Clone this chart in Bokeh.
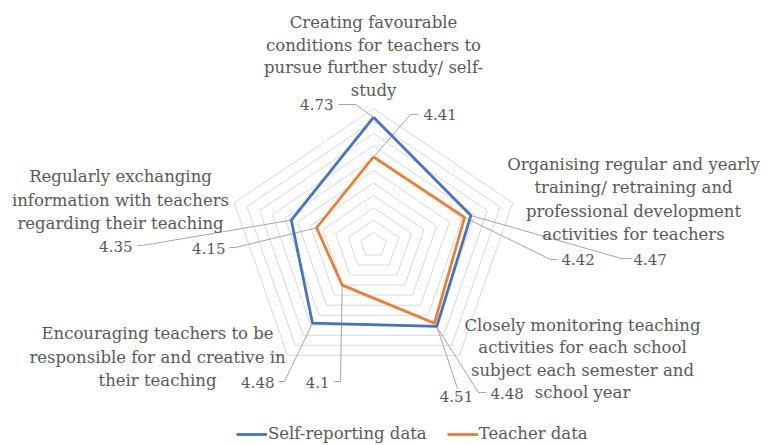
import numpy as np
from bokeh.plotting import figure
from bokeh.models import Range1d, Label, Legend, LegendItem
from bokeh.embed import file_html
from bokeh.resources import INLINE

# ---------------- data ----------------
categories = [
    ["Creating favourable", "conditions for teachers to", "pursue further study/ self-", "study"],
    ["Organising regular and yearly", "training/ retraining and", "professional development", "activities for teachers"],
    ["Closely monitoring teaching", "activities for each school", "subject each semester and", "school year"],
    ["Encouraging teachers to be", "responsible for and creative in", "their teaching"],
    ["Regularly exchanging", "information with teachers", "regarding their teaching"],
]
series_names = ["Self-reporting data", "Teacher data"]
self_reporting = [4.73, 4.47, 4.51, 4.48, 4.35]
teacher_data = [4.41, 4.42, 4.48, 4.10, 4.15]
self_labels = ["4.73", "4.47", "4.51", "4.48", "4.35"]
teacher_labels = ["4.41", "4.42", "4.48", "4.1", "4.15"]
scale_min = 3.7
ring_values = [3.8, 3.9, 4.0, 4.1, 4.2, 4.3, 4.4, 4.5, 4.6, 4.7, 4.8]

# ---------------- layout ----------------
W, H = 774, 445
CX, CY = 373.0, 244.5       # centre in canvas px
KX, KY = 133.0, 124.0       # px per unit (horizontal / vertical)
FONT = "DejaVu Serif"
FS = "16.5px"
FS_VAL = "15px"
TXT = "#595959"
BLUE, ORANGE = "#4472C4", "#ED7D31"
GRID = "#d9d9d9"
LEAD = "#a6a6a6"

def px(page_x):
    return (page_x - CX) / KX

def py(page_y):
    return (CY - page_y) / KY

n = len(categories)
angles = np.deg2rad(np.arange(n) * 360.0 / n)

def polar(values):
    r = np.asarray(values, dtype=float) - scale_min
    return r * np.sin(angles), r * np.cos(angles)

p = figure(width=W, height=H, output_backend="svg", toolbar_location=None,
           x_range=Range1d(-CX / KX, (W - CX) / KX),
           y_range=Range1d(-(H - CY) / KY, CY / KY),
           x_axis_location=None, y_axis_location=None, min_border=0)
p.grid.visible = False
p.outline_line_color = None
p.background_fill_color = "white"
p.border_fill_color = "white"

# rings
for rv in ring_values:
    xs, ys = polar([rv] * n)
    p.line(list(xs) + [xs[0]], list(ys) + [ys[0]], line_color=GRID, line_width=1)

# leader lines + value labels (layout in page px)
self_lbl_layout = [
    dict(tx=333, ty=104, align="right", path=[(355, 104), (338, 104)]),
    dict(tx=633, ty=259, align="left", path=[(621, 258), (631, 258)]),
    dict(tx=456, ty=396, align="center", path=[(457, 388)]),
    dict(tx=274, ty=382, align="right", path=[(284, 381), (278, 381)]),
    dict(tx=132, ty=246, align="right", path=[(142, 245), (137, 245)]),
]
teacher_lbl_layout = [
    dict(tx=423, ty=114, align="left", path=[(410, 114), (418, 114)]),
    dict(tx=561, ty=259, align="left", path=[(550, 259), (557, 259)]),
    dict(tx=490, ty=393, align="left", path=[(478, 392), (486, 392)]),
    dict(tx=329, ty=382, align="right", path=[(340, 381), (333, 381)]),
    dict(tx=225, ty=248, align="right", path=[(235, 247), (229, 247)]),
]

for vals, labels, layout in [(self_reporting, self_labels, self_lbl_layout),
                             (teacher_data, teacher_labels, teacher_lbl_layout)]:
    xs, ys = polar(vals)
    for i in range(n):
        lay = layout[i]
        lx = [xs[i]] + [px(a) for a, b in lay["path"]]
        ly = [ys[i]] + [py(b) for a, b in lay["path"]]
        p.line(lx, ly, line_color=LEAD, line_width=1)
        p.add_layout(Label(x=px(lay["tx"]), y=py(lay["ty"]), text=labels[i],
                           text_align=lay["align"], text_baseline="middle",
                           text_font=FONT, text_font_size=FS_VAL, text_color=TXT))

# series
renderers = []
for vals, col in [(self_reporting, BLUE), (teacher_data, ORANGE)]:
    xs, ys = polar(vals)
    r = p.line(list(xs) + [xs[0]], list(ys) + [ys[0]], line_color=col, line_width=2.75)
    renderers.append(r)

# category labels (layout: centre x, first line y, line step, page px)
cat_layout = [
    (373, 22, 22.5),
    (633, 164, 23.3),
    (582, 325, 22.3),
    (157, 333, 23.5),
    (120, 176, 23.5),
]
for lines, (cx, y0, step) in zip(categories, cat_layout):
    for j, t in enumerate(lines):
        p.add_layout(Label(x=px(cx), y=py(y0 + j * step), text=t,
                           text_align="center", text_baseline="middle",
                           text_font=FONT, text_font_size=FS, text_color=TXT))

legend = Legend(items=[LegendItem(label=series_names[0], renderers=[renderers[0]]),
                       LegendItem(label=series_names[1], renderers=[renderers[1]])],
                orientation="horizontal", location=(236, 2),
                glyph_width=31, glyph_height=14, label_height=14, label_standoff=1,
                spacing=20, padding=0, margin=0,
                border_line_alpha=0, background_fill_alpha=0,
                label_text_font=FONT, label_text_font_size=FS, label_text_color=TXT)
p.add_layout(legend)

open("out.html", "w").write(file_html(p, INLINE))
